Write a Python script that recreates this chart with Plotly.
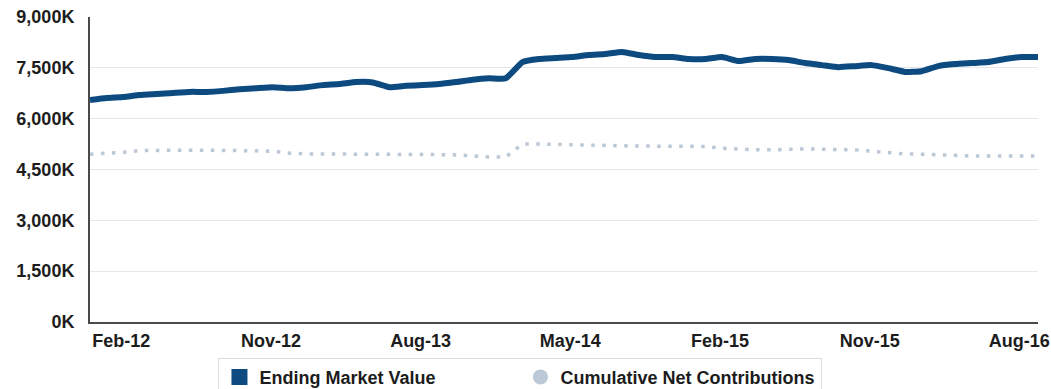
import pandas as pd
import plotly.graph_objects as go

# Monthly observations, Dec-2011 through Sep-2016
months = pd.date_range("2011-12-01", "2016-09-01", freq="MS").strftime("%b-%y").tolist()

# Ending market value, in thousands
ending_market_value = [
    6550, 6610, 6640, 6700, 6730, 6760, 6790, 6790, 6820, 6870,
    6900, 6930, 6900, 6930, 6990, 7020, 7080, 7070, 6930, 6970,
    6990, 7020, 7080, 7150, 7190, 7190, 7670, 7760, 7790, 7820,
    7880, 7910, 7970, 7880, 7820, 7820, 7760, 7760, 7820, 7700,
    7760, 7760, 7730, 7640, 7580, 7520, 7550, 7580, 7490, 7380,
    7400, 7550, 7610, 7640, 7670, 7760, 7820, 7820,
]

# Cumulative net contributions, in thousands
cumulative_net_contributions = [
    4950, 4970, 5010, 5060, 5070, 5070, 5070, 5070, 5070, 5060,
    5050, 5040, 4980, 4960, 4960, 4960, 4960, 4960, 4950, 4950,
    4950, 4940, 4930, 4900, 4870, 4870, 5250, 5250, 5240, 5230,
    5210, 5190, 5190, 5190, 5190, 5190, 5190, 5180, 5130, 5100,
    5080, 5080, 5100, 5110, 5100, 5090, 5080, 5040, 4990, 4960,
    4950, 4930, 4910, 4900, 4900, 4900, 4900, 4900,
]

x_tick_labels = ["Feb-12", "Nov-12", "Aug-13", "May-14", "Feb-15", "Nov-15", "Aug-16"]
y_tick_values = [0, 1500, 3000, 4500, 6000, 7500, 9000]
y_tick_labels = ["0K", "1,500K", "3,000K", "4,500K", "6,000K", "7,500K", "9,000K"]

NAVY = "#0c4a80"
PALE = "#bcc8d6"
TEXT = "#1c1c1c"
FONT = "Liberation Sans, Arial, sans-serif"
SIZE = 18

fig = go.Figure()

fig.add_trace(go.Scatter(
    x=months, y=cumulative_net_contributions, mode="lines",
    line=dict(color=PALE, width=3.5, dash="3.5px,7.5px"),
    showlegend=False, hoverinfo="skip",
))
fig.add_trace(go.Scatter(
    x=months, y=ending_market_value, mode="lines",
    line=dict(color=NAVY, width=6, shape="spline", smoothing=0.4),
    showlegend=False, hoverinfo="skip",
))

# Legend keys: a square for the market value, a dot for contributions
fig.add_trace(go.Scatter(
    x=[None], y=[None], mode="markers", name="Ending Market Value",
    marker=dict(symbol="square", size=17, color=NAVY),
))
fig.add_trace(go.Scatter(
    x=[None], y=[None], mode="markers", name="Cumulative Net Contributions",
    marker=dict(symbol="circle", size=15, color=PALE),
))

fig.update_layout(
    width=1051, height=389,
    margin=dict(l=90, r=13, t=17, b=67, autoexpand=False),
    paper_bgcolor="white", plot_bgcolor="white",
    font=dict(family=FONT, size=SIZE, color=TEXT, weight="bold"),
    legend=dict(
        orientation="h", x=0.1355, xanchor="left", y=-0.117, yanchor="top",
        bordercolor="#dcdcdc", borderwidth=1,
        entrywidth=256, entrywidthmode="pixels",
        font=dict(family=FONT, size=SIZE, color=TEXT, weight="bold"),
        itemsizing="trace",
    ),
)

fig.update_xaxes(
    type="category", categoryorder="array", categoryarray=months,
    range=[0, len(months) - 1],
    tickmode="array", tickvals=x_tick_labels, ticktext=x_tick_labels,
    showgrid=False, showline=True, linecolor="#4a4a4a", linewidth=2,
    ticks="", ticklabelstandoff=1, ticklabelshift=-2,
    tickfont=dict(family=FONT, size=SIZE, color=TEXT, weight="bold"),
)

fig.update_yaxes(
    range=[0, 9000], tickmode="array", tickvals=y_tick_values, ticktext=y_tick_labels,
    showgrid=True, gridcolor="#e3e6eb", gridwidth=1,
    zeroline=False,
    showline=True, linecolor="#4a4a4a", linewidth=2,
    ticks="", ticklabelstandoff=10,
    tickfont=dict(family=FONT, size=SIZE, color=TEXT, weight="bold"),
)

fig.write_html("out.html")
